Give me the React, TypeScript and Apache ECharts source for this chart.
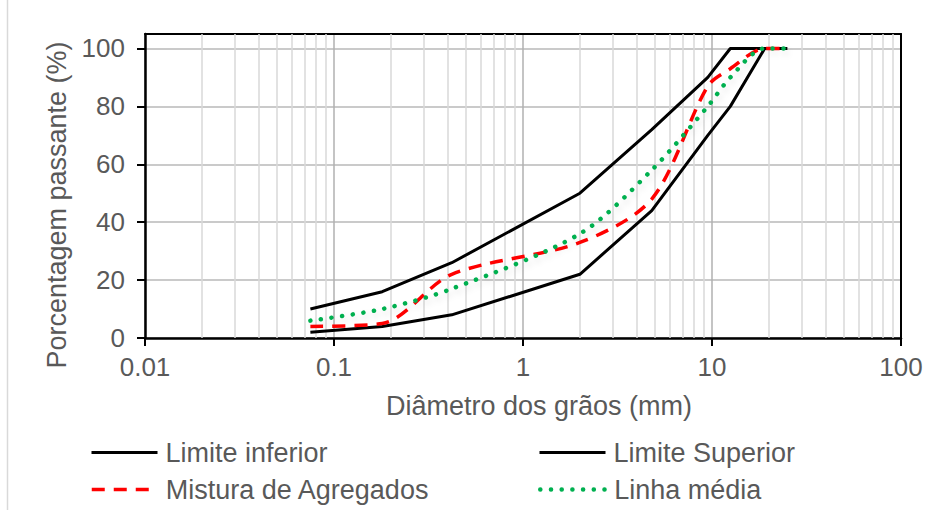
import React, { useEffect, useRef } from 'react';
import * as echarts from 'echarts';

// Sieve sizes (mm) and percentages passing
const sieveSizes = [0.075, 0.18, 0.42, 2.0, 4.8, 9.5, 12.5, 19, 25];
const limiteInferior = [2, 4, 8, 22, 44, 70, 80, 100, 100];
const limiteSuperior = [10, 16, 26, 50, 72, 90, 100, 100, 100];
const mistura = [4, 5, 22, 33, 48, 87, 93, 100, 100];
const linhaMedia = [6, 10, 17, 36, 58, 80, 90, 100, 100];

const yTicks = [0, 20, 40, 60, 80, 100];
const decades = [0.01, 0.1, 1, 10];
const minorMultipliers = [2, 3, 4, 5, 6, 7, 8, 9];

const FONT = '"Liberation Sans", Arial, sans-serif';
const TXT = '#595959';

function pairs(xs: number[], ys: number[]) {
  return xs.map((x, i) => [x, ys[i]]);
}

export default function App() {
  const ref = useRef<HTMLDivElement>(null);

  useEffect(() => {
    if (!ref.current) return;
    const chart = echarts.init(ref.current, undefined, { renderer: 'svg' });

    const minorLines: any[] = [];
    decades.forEach((d) => minorMultipliers.forEach((m) => minorLines.push({ xAxis: +(d * m).toPrecision(6) })));

    const legendBase: any = {
      orient: 'horizontal',
      itemWidth: 66,
      itemHeight: 14,
      padding: 0,
      selectedMode: false,
      itemStyle: { opacity: 0, borderWidth: 0 },
      textStyle: { fontFamily: FONT, fontSize: 27, color: TXT, padding: [0, 0, 0, 3] },
    };

    const option: any = {
      animation: false,
      backgroundColor: '#ffffff',
      grid: { left: 145, right: 25, top: 34, bottom: 172, containLabel: false },
      xAxis: [
        {
          type: 'log',
          logBase: 10,
          min: 0.01,
          max: 100,
          name: 'Diâmetro dos grãos (mm)',
          nameLocation: 'middle',
          nameGap: 54,
          nameTextStyle: { fontFamily: FONT, fontSize: 27, color: TXT, padding: [0, 0, 0, 32] },
          axisLine: { show: true, onZero: false, lineStyle: { color: '#000', width: 2.5 } },
          axisTick: { show: true, inside: false, length: 8, lineStyle: { color: '#000', width: 2 } },
          axisLabel: {
            fontFamily: FONT,
            fontSize: 26,
            color: TXT,
            margin: 16,
            formatter: (v: number) => String(+v.toPrecision(6)),
          },
          splitLine: { show: true, lineStyle: { color: '#b0b0b0', width: 1.5 } },
        },
        {
          type: 'log',
          logBase: 10,
          min: 0.01,
          max: 100,
          position: 'top',
          axisLine: { show: true, onZero: false, lineStyle: { color: '#000', width: 2 } },
          axisTick: { show: false },
          axisLabel: { show: false },
          splitLine: { show: false },
        },
      ],
      yAxis: [
        {
          type: 'value',
          min: 0,
          max: 105,
          interval: 20,
          name: 'Porcentagem passante (%)',
          nameLocation: 'middle',
          nameGap: 68,
          nameTextStyle: { fontFamily: FONT, fontSize: 27, color: TXT, padding: [0, 38, 0, 0] },
          axisLine: { show: true, onZero: false, lineStyle: { color: '#000', width: 2.5 } },
          axisTick: { show: true, length: 8, customValues: yTicks, lineStyle: { color: '#000', width: 2 } },
          axisLabel: {
            fontFamily: FONT,
            fontSize: 26,
            color: TXT,
            margin: 20,
            customValues: yTicks,
            formatter: (v: number) => (v > 100 ? '' : String(v)),
          },
          splitLine: { show: true, lineStyle: { color: '#b8b8b8', width: 1.5 } },
        },
        {
          type: 'value',
          min: 0,
          max: 105,
          position: 'right',
          axisLine: { show: true, onZero: false, lineStyle: { color: '#000', width: 2 } },
          axisTick: { show: false },
          axisLabel: { show: false },
          splitLine: { show: false },
        },
      ],
      legend: [
        { ...legendBase, data: ['Limite inferior'], left: 90, top: 439, lineStyle: { width: 3 } },
        { ...legendBase, data: ['Limite Superior'], left: 538, top: 439, lineStyle: { width: 3 } },
        { ...legendBase, data: ['Mistura de Agregados'], left: 90, top: 476, lineStyle: { width: 3.5 } },
        { ...legendBase, data: ['Linha média'], left: 538, top: 476, lineStyle: { width: 4.5, cap: 'round' } },
      ],
      graphic: [
        {
          type: 'line',
          shape: { x1: 7.5, y1: 0, x2: 7.5, y2: 510 },
          style: { stroke: '#d9d9d9', lineWidth: 1.5 },
          silent: true,
        },
      ],
      series: [
        {
          name: 'Limite inferior',
          type: 'line',
          data: pairs(sieveSizes, limiteInferior),
          symbol: 'none',
          lineStyle: { color: '#000', width: 3 },
          itemStyle: { color: '#000' },
          markLine: {
            silent: true,
            z: 1,
            symbol: ['none', 'none'],
            label: { show: false },
            lineStyle: { color: '#d9d9d9', width: 1.5, type: 'solid' },
            emphasis: { disabled: true },
            data: minorLines,
          },
        },
        {
          name: 'Limite Superior',
          type: 'line',
          data: pairs(sieveSizes, limiteSuperior),
          symbol: 'none',
          lineStyle: { color: '#000', width: 3 },
          itemStyle: { color: '#000' },
        },
        {
          name: 'Mistura de Agregados',
          type: 'line',
          data: pairs(sieveSizes, mistura),
          symbol: 'none',
          smooth: 0.3,
          lineStyle: { color: '#ff0000', width: 3.5, type: [13, 9] },
          itemStyle: { color: '#ff0000' },
        },
        {
          name: 'Linha média',
          type: 'line',
          data: pairs(sieveSizes, linhaMedia),
          symbol: 'none',
          smooth: 0.3,
          lineStyle: {
            color: '#00b050',
            width: 4.5,
            type: [0.1, 10.6],
            cap: 'round',
            shadowColor: 'rgba(0,0,0,0.12)',
            shadowBlur: 6,
            shadowOffsetX: 2,
            shadowOffsetY: 4,
          },
          itemStyle: { color: '#00b050' },
        },
      ],
    };

    chart.setOption(option);
    return () => chart.dispose();
  }, []);

  return (
    <div
      ref={ref}
      style={{ position: 'fixed', left: 0, top: 0, width: 926, height: 510, background: '#fff' }}
    />
  );
}
